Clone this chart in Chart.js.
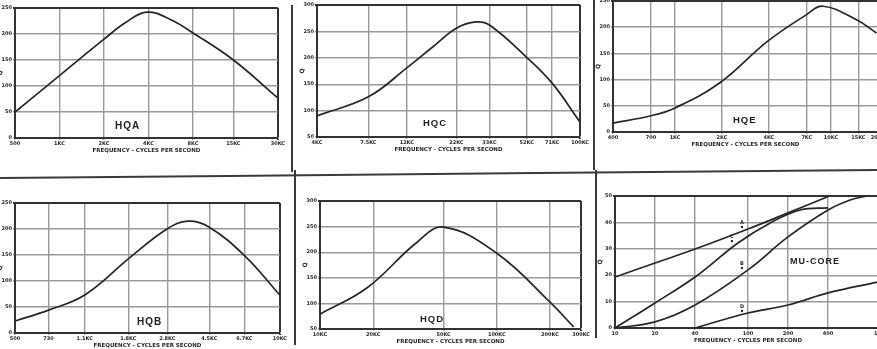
<!DOCTYPE html>
<html>
<head>
<meta charset="utf-8">
<script src="https://cdn.jsdelivr.net/npm/chart.js@4/dist/chart.umd.min.js"></script>
<style>
html, body { margin: 0; padding: 0; background: #fff; overflow: hidden; }
#wrap { position: relative; width: 877px; height: 349px; overflow: hidden; background: #fff; }
canvas { position: absolute; }
.tag { position: absolute; font: bold 10px "Liberation Sans", Arial, sans-serif; color: #1e1e1e;
       letter-spacing: 1px; white-space: nowrap; line-height: 10px; }
svg { position: absolute; left: 0; top: 0; }
</style>
</head>
<body>
<div id="wrap">
  <canvas id="hqa"></canvas>
  <canvas id="hqc"></canvas>
  <canvas id="hqe"></canvas>
  <canvas id="hqb"></canvas>
  <canvas id="hqd"></canvas>
  <canvas id="mu"></canvas>
  <div class="tag" style="left:115px;top:121px">HQA</div>
  <div class="tag" style="left:423px;top:118px;font-size:9.5px">HQC</div>
  <div class="tag" style="left:733px;top:115px;font-size:9.5px">HQE</div>
  <div class="tag" style="left:137px;top:317px">HQB</div>
  <div class="tag" style="left:420px;top:314px;font-size:9.5px">HQD</div>
  <div class="tag" style="left:790px;top:256px;font-size:9px">MU-CORE</div>
  <svg width="877" height="349">
    <g stroke="#3a3a3a" stroke-width="2">
      <line x1="292" y1="5" x2="292" y2="172"/>
      <line x1="295" y1="170" x2="295" y2="345"/>
      <line x1="594" y1="0" x2="594" y2="170"/>
      <line x1="596" y1="170" x2="596" y2="338"/>
      <line x1="0" y1="178" x2="877" y2="170"/>
    </g>
  </svg>
</div>
<script>
// HQA
const hqaTicks = [500, 1000, 2000, 4000, 8000, 15000, 30000];
const hqaTickLabels = ['500', '1KC', '2KC', '4KC', '8KC', '15KC', '30KC'];
const hqaFreq = [500, 1000, 2000, 2800, 3900, 5700, 8000, 15000, 30000];
const hqaQ = [50, 120, 190, 222, 242, 227, 202, 150, 77];

// HQC (kc)
const hqcTicks = [4, 7.5, 12, 22, 33, 52, 71, 100];
const hqcTickLabels = ['4KC', '7.5KC', '12KC', '22KC', '33KC', '52KC', '71KC', '100KC'];
const hqcFreq = [4, 7.5, 12, 16.4, 22, 28, 33, 52, 71, 100];
const hqcQ = [90, 126, 181, 220, 256, 268, 262, 201, 152, 78];

// HQE
const hqeTicks = [400, 700, 1000, 2000, 4000, 7000, 10000, 15000, 20000];
const hqeTickLabels = ['400', '700', '1KC', '2KC', '4KC', '7KC', '10KC', '15KC', '20KC'];
const hqeFreq = [400, 700, 1000, 1940, 3880, 6900, 8900, 14600, 19600];
const hqeQ = [17, 31, 46, 94, 172, 223, 240, 214, 189];

// HQB
const hqbTicks = [500, 730, 1100, 1800, 2800, 4500, 6700, 10000];
const hqbTickLabels = ['500', '730', '1.1KC', '1.8KC', '2.8KC', '4.5KC', '6.7KC', '10KC'];
const hqbFreq = [500, 730, 1100, 1820, 2790, 3530, 4480, 6740, 10000];
const hqbQ = [23, 44, 73, 144, 200, 215, 204, 148, 73];

// HQD (kc)
const hqdTicks = [10, 20, 50, 100, 200, 300];
const hqdTickLabels = ['10KC', '20KC', '50KC', '100KC', '200KC', '300KC'];
const hqdFreq = [10, 18.4, 35, 50, 100, 202, 272];
const hqdQ = [79, 130, 218, 249, 198, 101, 54];

// MU-CORE
const muTicks = [10, 20, 40, 100, 200, 400, 1000];
const muTickLabels = ['10', '20', '40', '100', '200', '400', '1000'];
const muAFreq = [10, 20, 40, 100, 200, 410];
const muAQ = [19.3, 24.6, 29.9, 37.5, 43.6, 50];
const muCFreq = [10, 20, 40, 84, 147, 247, 400];
const muCQ = [0, 9.5, 19.3, 32.2, 39.8, 44.7, 45.5];
const muBFreq = [10, 20, 40, 100, 200, 400, 587, 788];
const muBQ = [0, 2.3, 8.7, 22, 34.5, 44.7, 48.5, 50];
const muDFreq = [40, 100, 200, 400, 940];
const muDQ = [0, 5.7, 8.7, 13.3, 17.4];

const AXIS_W = 18, PAD_T = 6, PAD_R = 8, AXIS_H = 16;
const ink = '#262626';
const tickFont = { family: 'DejaVu Sans', size: 5, weight: 'bold' };

function pts(xs, ys) {
    return xs.map((x, i) => ({ x: x, y: ys[i] }));
}

const letterPlugin = {
    id: 'letters',
    afterDatasetsDraw(chart) {
        const ctx = chart.ctx;
        ctx.save();
        ctx.fillStyle = ink;
        ctx.font = 'bold 5px "DejaVu Sans"';
        chart.data.datasets.forEach((ds, i) => {
            if (!ds.letter) return;
            const p = chart.getDatasetMeta(i).data[ds.letterAt];
            ctx.beginPath();
            ctx.arc(p.x - 6, p.y - 2, 1.2, 0, Math.PI * 2);
            ctx.fill();
            ctx.fillText(ds.letter, p.x - 8, p.y - 5);
        });
        ctx.restore();
    }
};

function makeChart(id, box, xTicks, xLabels, yMin, yMax, yStep, sets) {
    const el = document.getElementById(id);
    el.width = AXIS_W + (box.r - box.l) + PAD_R;
    el.height = PAD_T + (box.b - box.t) + AXIS_H;
    el.style.left = (box.l - AXIS_W) + 'px';
    el.style.top = (box.t - PAD_T) + 'px';
    const lastX = xTicks.length - 1;
    const lastY = Math.round((yMax - yMin) / yStep);
    return new Chart(el, {
        type: 'line',
        data: {
            datasets: sets.map(s => ({
                data: pts(s.x, s.y),
                borderColor: ink,
                borderWidth: 1.7,
                pointRadius: 0,
                tension: 0.4,
                letter: s.letter,
                letterAt: s.at
            }))
        },
        options: {
            responsive: false,
            animation: false,
            layout: { padding: { top: PAD_T, right: PAD_R, left: 0, bottom: 0 } },
            plugins: { legend: { display: false }, tooltip: { enabled: false } },
            scales: {
                x: {
                    type: 'logarithmic',
                    min: xTicks[0],
                    max: xTicks[lastX],
                    afterBuildTicks: s => { s.ticks = xTicks.map(v => ({ value: v })); },
                    afterFit: s => { s.height = AXIS_H; },
                    ticks: {
                        autoSkip: false, maxRotation: 0, padding: 1,
                        font: tickFont, color: ink,
                        callback: (v, i) => xLabels[i]
                    },
                    grid: {
                        color: c => c.index === lastX ? '#333' : '#9a9a9a',
                        lineWidth: c => c.index === lastX ? 2 : 1.4,
                        tickLength: 2
                    },
                    border: { color: '#333', width: 2 },
                    title: {
                        display: true, text: 'FREQUENCY - CYCLES PER SECOND',
                        font: { family: 'DejaVu Sans', size: 5.5, weight: 'bold' },
                        color: ink, padding: 0
                    }
                },
                y: {
                    min: yMin, max: yMax,
                    afterFit: s => { s.width = AXIS_W; },
                    ticks: { stepSize: yStep, font: tickFont, color: ink, padding: 1 },
                    grid: {
                        color: c => c.index === lastY ? '#333' : '#9a9a9a',
                        lineWidth: c => c.index === lastY ? 2 : 1.4,
                        tickLength: 2
                    },
                    border: { color: '#333', width: 2 },
                    title: {
                        display: true, text: 'Q',
                        font: { family: 'DejaVu Sans', size: 6, weight: 'bold' },
                        color: ink, padding: 0
                    }
                }
            }
        },
        plugins: [letterPlugin]
    });
}

makeChart('hqa', { l: 15, r: 278, t: 8, b: 138 }, hqaTicks, hqaTickLabels, 0, 250, 50,
    [{ x: hqaFreq, y: hqaQ }]);
makeChart('hqc', { l: 317, r: 582, t: 5, b: 137 }, hqcTicks, hqcTickLabels, 50, 300, 50,
    [{ x: hqcFreq, y: hqcQ }]);
makeChart('hqe', { l: 613, r: 878, t: 1, b: 132 }, hqeTicks, hqeTickLabels, 0, 250, 50,
    [{ x: hqeFreq, y: hqeQ }]);
makeChart('hqb', { l: 15, r: 280, t: 203, b: 333 }, hqbTicks, hqbTickLabels, 0, 250, 50,
    [{ x: hqbFreq, y: hqbQ }]);
makeChart('hqd', { l: 320, r: 583, t: 201, b: 329 }, hqdTicks, hqdTickLabels, 50, 300, 50,
    [{ x: hqdFreq, y: hqdQ }]);
makeChart('mu', { l: 615, r: 881, t: 196, b: 328 }, muTicks, muTickLabels, 0, 50, 10, [
    { x: muAFreq, y: muAQ, letter: 'A', at: 3 },
    { x: muCFreq, y: muCQ, letter: 'C', at: 3 },
    { x: muBFreq, y: muBQ, letter: 'B', at: 3 },
    { x: muDFreq, y: muDQ, letter: 'D', at: 1 }
]);
</script>
</body>
</html>
